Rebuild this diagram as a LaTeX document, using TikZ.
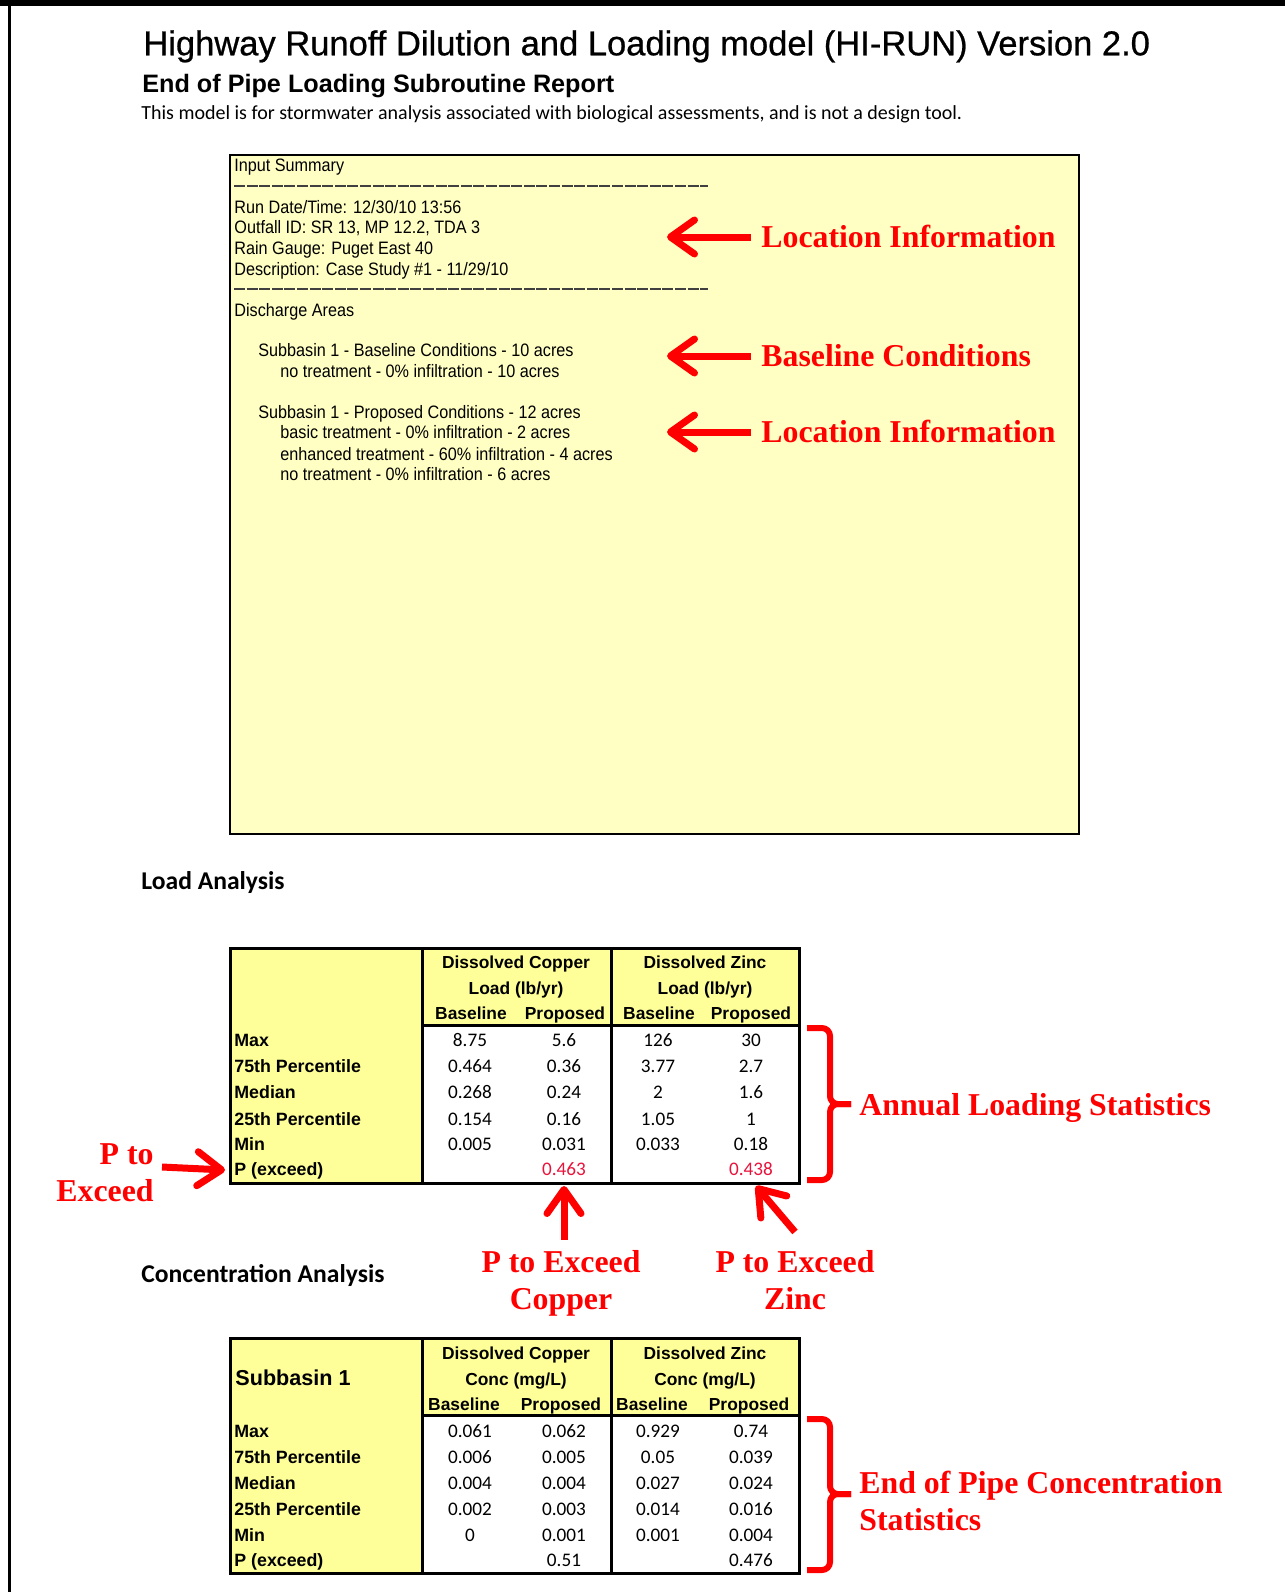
\documentclass[tikz,border=0pt]{standalone}
\usepackage{fontspec}
\setmainfont{Liberation Sans}
\newfontfamily\arialf{Liberation Sans}
\newfontfamily\arialheavy[FakeBold=0.7]{Liberation Sans}
\newfontfamily\arialnarrow[FakeStretch=0.9]{Liberation Sans}
\newfontfamily\timesf{Liberation Serif}
\newfontfamily\calif{Carlito}
\usetikzlibrary{arrows.meta}
\definecolor{boxyellow}{RGB}{255,255,196}
\definecolor{tabyellow}{RGB}{255,255,153}
\definecolor{annred}{RGB}{255,0,0}
\definecolor{numred}{RGB}{232,20,60}
\begin{document}
\begin{tikzpicture}[x=0.5pt,y=-0.5pt,
  txt/.style={inner sep=0pt, anchor=mid west},
  ttl/.style={txt, yshift=-3pt, font=\arialheavy\fontsize{17.26}{20}\selectfont},
  subt/.style={txt, yshift=-1.5pt, font=\arialf\bfseries\fontsize{12.6}{15}\selectfont},
  note/.style={txt, yshift=-0.5pt, font=\calif\fontsize{10}{12}\selectfont},
  summ/.style={txt, yshift=-1pt, font=\arialnarrow\fontsize{9}{10}\selectfont},
  sect/.style={txt, yshift=-2pt, font=\calif\bfseries\fontsize{12.8}{15}\selectfont},
  lab/.style={txt, yshift=-1pt, font=\arialf\bfseries\fontsize{8.9}{10}\selectfont},
  hdr/.style={inner sep=0pt, anchor=mid, yshift=-1pt, font=\arialf\bfseries\fontsize{8.7}{10}\selectfont},
  num/.style={inner sep=0pt, anchor=mid, yshift=-1pt, font=\calif\fontsize{9.6}{11}\selectfont},
  ann/.style={inner sep=0pt, text=annred, font=\timesf\bfseries\fontsize{15.9}{18.5}\selectfont},
  redarrow/.style={draw=annred, line width=3.5pt, -{Straight Barb[length=12pt,width=17pt,round]}},
  brace/.style={draw=annred, line width=3pt, rounded corners=4pt},
  tabline/.style={draw=black, line width=1.5pt},
  dashrule/.style={draw=black!75, line width=0.6pt, dash pattern=on 5.5pt off 0.8pt}
]
\useasboundingbox (0,0) rectangle (1285,1592);
\fill[white] (0,0) rectangle (1285,1592);
% page frame
\draw[line width=3pt] (0,3) -- (1285,3);
\draw[line width=1.5pt] (9,0) -- (9,1592);

% heading
\node[ttl] (title) at (143,44) {Highway Runoff Dilution and Loading model (HI-RUN) Version 2.0};
\node[subt] (subtitle) at (142,84) {End of Pipe Loading Subroutine Report};
\node[note] (disclaimer) at (141,113) {This model is for stormwater analysis associated with biological assessments, and is not a design tool.};

% input summary box
\draw[fill=boxyellow, line width=1pt] (230,155) rectangle (1079,834);
\node[summ] (s1) at (234,164) {Input Summary};
\draw[dashrule] (234,186) -- (708,186);
\node[summ] (s2) at (234,206) {Run Date/Time: 12/30/10 13:56};
\node[summ] (s3) at (234,226) {Outfall ID: SR 13, MP 12.2, TDA 3};
\node[summ] (s4) at (234,247) {Rain Gauge: Puget East 40};
\node[summ] (s5) at (234,268) {Description: Case Study \#1 - 11/29/10};
\draw[dashrule] (234,289) -- (708,289);
\node[summ] (s6) at (234,309) {Discharge Areas};
\node[summ] (s7) at (258,349) {Subbasin 1 - Baseline Conditions - 10 acres};
\node[summ] (s8) at (280,370) {no treatment - 0\% infiltration - 10 acres};
\node[summ] (s9) at (258,411) {Subbasin 1 - Proposed Conditions - 12 acres};
\node[summ] (s10) at (280,431) {basic treatment - 0\% infiltration - 2 acres};
\node[summ] (s11) at (280,453) {enhanced treatment - 60\% infiltration - 4 acres};
\node[summ] (s12) at (280,473) {no treatment - 0\% infiltration - 6 acres};

% annotations for summary
\node[ann, anchor=mid west, yshift=-2.5pt] (loc1) at (761,237) {Location Information};
\node[ann, anchor=mid west, yshift=-2.5pt] (base) at (761,356) {Baseline Conditions};
\node[ann, anchor=mid west, yshift=-2.5pt] (loc2) at (761,432) {Location Information};
\coordinate (tip1) at (667,237);
\coordinate (tip2) at (667,356);
\coordinate (tip3) at (667,432);
\coordinate (tail1) at (751,237);
\coordinate (tail2) at (751,356);
\coordinate (tail3) at (751,432);
\draw[redarrow] (tail1) -- (tip1);
\draw[redarrow] (tail2) -- (tip2);
\draw[redarrow] (tail3) -- (tip3);

% section titles
\node[sect] (loadtitle) at (141,880) {Load Analysis};
\node[sect] (conctitle) at (141,1273) {Concentration Analysis};

% ---------- load table ----------
\fill[tabyellow] (230,948) rectangle (422,1183);
\fill[tabyellow] (422,948) rectangle (799,1025);
\draw[tabline] (230,948) rectangle (799,1183);
\draw[tabline] (422,948) -- (422,1183);
\draw[tabline] (611,948) -- (611,1183);
\draw[tabline] (422,1025) -- (799,1025);
\node[hdr] (ld-cu1) at (516,961) {Dissolved Copper};
\node[hdr] (ld-cu2) at (516,987) {Load (lb/yr)};
\node[hdr] (ld-zn1) at (705,961) {Dissolved Zinc};
\node[hdr] (ld-zn2) at (705,987) {Load (lb/yr)};
\node[hdr] (ld-b1) at (471,1012) {Baseline};
\node[hdr] (ld-p1) at (565,1012) {Proposed};
\node[hdr] (ld-b2) at (659,1012) {Baseline};
\node[hdr] (ld-p2) at (751,1012) {Proposed};
\foreach \lb/\yy [count=\i] in {Max/1039, 75th Percentile/1065, Median/1091, 25th Percentile/1118, Min/1143, P (exceed)/1168}
  \node[lab] (ld-l\i) at (234,\yy) {\lb};
\foreach \a/\b/\c/\d/\yy [count=\i] in {8.75/5.6/126/30/1039, 0.464/0.36/3.77/2.7/1065, 0.268/0.24/2/1.6/1091, 0.154/0.16/1.05/1/1118, 0.005/0.031/0.033/0.18/1143}{
  \node[num] (ld-r\i a) at (470,\yy) {\a};
  \node[num] (ld-r\i b) at (564,\yy) {\b};
  \node[num] (ld-r\i c) at (658,\yy) {\c};
  \node[num] (ld-r\i d) at (751,\yy) {\d};
}
\node[num, text=numred] (ld-pcu) at (564,1168) {0.463};
\node[num, text=numred] (ld-pzn) at (751,1168) {0.438};

% ---------- concentration table ----------
\fill[tabyellow] (230,1338) rectangle (422,1573);
\fill[tabyellow] (422,1338) rectangle (799,1415);
\draw[tabline] (230,1338) rectangle (799,1573);
\draw[tabline] (422,1338) -- (422,1573);
\draw[tabline] (611,1338) -- (611,1573);
\draw[tabline] (422,1415) -- (799,1415);
\node[txt, yshift=-1pt, font=\arialf\bfseries\fontsize{10.8}{12}\selectfont] (cc-sub) at (235,1378) {Subbasin 1};
\node[hdr] (cc-cu1) at (516,1352) {Dissolved Copper};
\node[hdr] (cc-cu2) at (516,1378) {Conc (mg/L)};
\node[hdr] (cc-zn1) at (705,1352) {Dissolved Zinc};
\node[hdr] (cc-zn2) at (705,1378) {Conc (mg/L)};
\node[hdr] (cc-b1) at (464,1403) {Baseline};
\node[hdr] (cc-p1) at (561,1403) {Proposed};
\node[hdr] (cc-b2) at (652,1403) {Baseline};
\node[hdr] (cc-p2) at (749,1403) {Proposed};
\foreach \lb/\yy [count=\i] in {Max/1430, 75th Percentile/1456, Median/1482, 25th Percentile/1508, Min/1534, P (exceed)/1559}
  \node[lab] (cc-l\i) at (234,\yy) {\lb};
\foreach \a/\b/\c/\d/\yy [count=\i] in {0.061/0.062/0.929/0.74/1430, 0.006/0.005/0.05/0.039/1456, 0.004/0.004/0.027/0.024/1482, 0.002/0.003/0.014/0.016/1508, 0/0.001/0.001/0.004/1534}{
  \node[num] (cc-r\i a) at (470,\yy) {\a};
  \node[num] (cc-r\i b) at (564,\yy) {\b};
  \node[num] (cc-r\i c) at (658,\yy) {\c};
  \node[num] (cc-r\i d) at (751,\yy) {\d};
}
\node[num] (cc-pcu) at (564,1559) {0.51};
\node[num] (cc-pzn) at (751,1559) {0.476};

% ---------- annotations for tables ----------
\draw[brace] (807,1028) -| (830,1104) -- (851,1104);
\draw[brace] (851,1104) -- (830,1104) |- (807,1180);
\node[ann, anchor=mid west, yshift=-3pt] (annual) at (859,1104) {Annual Loading Statistics};

\draw[brace] (807,1419) -| (830,1494) -- (851,1494);
\draw[brace] (851,1494) -- (830,1494) |- (807,1570);
\node[ann, anchor=west, align=left, yshift=-0.5pt] (endpipe) at (859,1500) {End of Pipe Concentration\\Statistics};

\node[ann, anchor=east, align=right, yshift=-1pt] (ptoex) at (154,1171) {P to\\Exceed};
\coordinate (ptail) at (162,1167);
\draw[redarrow] (ptail) -- ([xshift=-4.5pt]ld-l6.mid west);

\node[ann, align=center, yshift=-1.5pt] (pcopper) at (561,1280) {P to Exceed\\Copper};
\node[ann, align=center, yshift=0pt] (pzinc) at (795,1280) {P to Exceed\\Zinc};
\coordinate (cutip) at (564,1186);
\coordinate (zntip) at (756,1186);
\draw[redarrow] ([xshift=1.5pt,yshift=5pt]pcopper.north) -- (cutip);
\draw[redarrow] ([yshift=9pt]pzinc.north) -- (zntip);
\end{tikzpicture}
\end{document}
